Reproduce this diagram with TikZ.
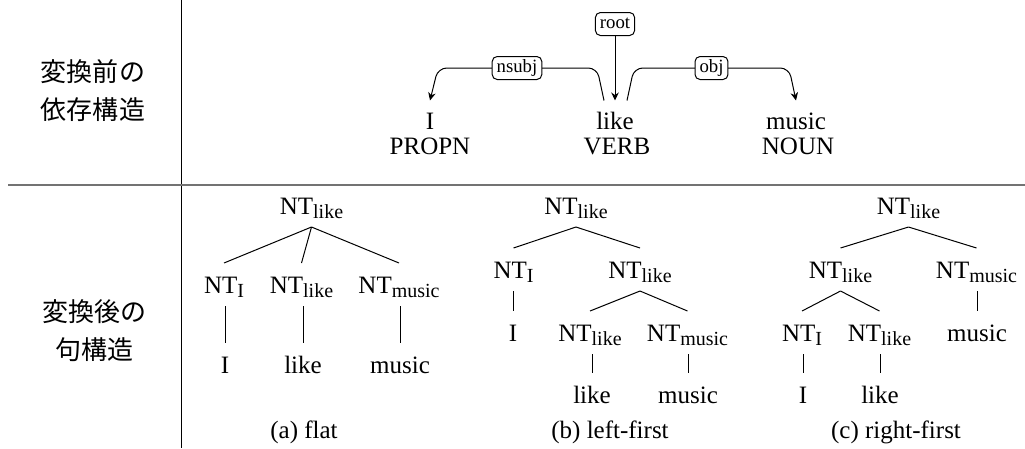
\documentclass[tikz,border=0pt]{standalone}
\usepackage{fontspec}
\setmainfont{Liberation Serif}
\newfontfamily\jafont{Noto Sans CJK JP}
\usetikzlibrary{arrows.meta}
\newcommand\sbs[1]{\raisebox{-1.6pt}{\fontsize{8}{9}\selectfont #1}}
\begin{document}
\begin{tikzpicture}[x=0.4pt,y=-0.4pt,
  nt/.style={anchor=base, inner xsep=0pt, inner ysep=5pt, text height=6.8pt, text depth=0pt, font=\fontsize{10}{12}\selectfont},
  dw/.style={anchor=base, inner xsep=0pt, inner ysep=4.4pt, text height=6.8pt, text depth=0pt, font=\fontsize{10}{12}\selectfont},
  postag/.style={anchor=base, inner sep=0pt, font=\fontsize{10}{12}\selectfont},
  lab/.style={draw, rounded corners=2pt, fill=white, font=\fontsize{7.5}{8}\selectfont, inner xsep=1.8pt, inner ysep=0pt, minimum height=9.2pt, text height=5.2pt, text depth=1.5pt, line width=0.4pt},
  arc/.style={-{Stealth[length=3.2pt,width=3pt]}, rounded corners=3.5pt, line width=0.4pt},
  jp/.style={font=\jafont\fontsize{10.4}{15.2}\selectfont, align=center, inner sep=0pt},
  captxt/.style={anchor=base, inner sep=0pt, font=\fontsize{10}{12}\selectfont},
  br/.style={line width=0.4pt}
]
\useasboundingbox (0,0) rectangle (1025,448);
% frame lines
\draw[line width=0.4pt] (181,0) -- (181,448);
\draw[black!55, line width=0.6pt] (8,185) -- (1025,185);
% row labels
\node[jp] (jpa) at (93,91) {変換前の\\依存構造};
\node[jp] (jpb) at (94,331) {変換後の\\句構造};
% dependency structure
\node[dw] (wI) at (430,129) {I};
\node[dw] (wlike) at (615,129) {like};
\node[dw] (wmusic) at (796,129) {music};
\node[postag] (pI) at (430,154) {PROPN};
\node[postag] (pV) at (617,154) {VERB};
\node[postag] (pN) at (798,154) {NOUN};
\coordinate (n1) at (597,68); \coordinate (n2) at (438,68);
\coordinate (o1) at (634,68); \coordinate (o2) at (789,68);
\draw[arc] ([xshift=-4.4pt]wlike.north) -- (n1) -- (n2) -- (wI.north);
\draw[arc] ([xshift=4.8pt]wlike.north) -- (o1) -- (o2) -- (wmusic.north);
\node[lab] (lroot) at (615,24) {root};
\node[lab] (lnsubj) at (517,68) {nsubj};
\node[lab] (lobj) at (711.5,68) {obj};
\draw[arc] (lroot) -- (wlike.north);
% (a) flat
\node[nt] (a0) at (311.5,214) {NT\sbs{like}};
\node[nt] (a1) at (224,293) {NT\sbs{I}};
\node[nt] (a2) at (301.5,293) {NT\sbs{like}};
\node[nt] (a3) at (399,293) {NT\sbs{music}};
\node[nt] (a4) at (225,373) {I};
\node[nt] (a5) at (303,373) {like};
\node[nt] (a6) at (400,373) {music};
\draw[br] (a0.south) -- (a1.north);
\draw[br] (a0.south) -- (a2.north);
\draw[br] (a0.south) -- (a3.north);
\draw[br] (a4.north |- a1.south) -- (a4.north);
\draw[br] (a5.north |- a2.south) -- (a5.north);
\draw[br] (a6.north |- a3.south) -- (a6.north);
\node[captxt] (ca) at (304,438) {(a) flat};
% (b) left-first
\node[nt] (b0) at (576,214) {NT\sbs{like}};
\node[nt] (b1) at (513.5,278) {NT\sbs{I}};
\node[nt] (b2) at (640,278) {NT\sbs{like}};
\node[nt] (b3) at (513,341) {I};
\node[nt] (b4) at (590,341) {NT\sbs{like}};
\node[nt] (b5) at (687.5,341) {NT\sbs{music}};
\node[nt] (b6) at (592,403) {like};
\node[nt] (b7) at (688,403) {music};
\draw[br] (b0.south) -- (b1.north);
\draw[br] (b0.south) -- (b2.north);
\draw[br] (b3.north |- b1.south) -- (b3.north);
\draw[br] (b2.south) -- (b4.north);
\draw[br] (b2.south) -- (b5.north);
\draw[br] (b6.north |- b4.south) -- (b6.north);
\draw[br] (b7.north |- b5.south) -- (b7.north);
\node[captxt] (cb) at (610,438) {(b) left-first};
% (c) right-first
\node[nt] (c0) at (908.5,214) {NT\sbs{like}};
\node[nt] (c1) at (840.5,278) {NT\sbs{like}};
\node[nt] (c2) at (976.5,278) {NT\sbs{music}};
\node[nt] (c3) at (802,341) {NT\sbs{I}};
\node[nt] (c4) at (879.5,341) {NT\sbs{like}};
\node[nt] (c5) at (977,341) {music};
\node[nt] (c6) at (803,403) {I};
\node[nt] (c7) at (880,403) {like};
\draw[br] (c0.south) -- (c1.north);
\draw[br] (c0.south) -- (c2.north);
\draw[br] (c1.south) -- (c3.north);
\draw[br] (c1.south) -- (c4.north);
\draw[br] (c5.north |- c2.south) -- (c5.north);
\draw[br] (c6.north |- c3.south) -- (c6.north);
\draw[br] (c7.north |- c4.south) -- (c7.north);
\node[captxt] (cc) at (896,438) {(c) right-first};
\end{tikzpicture}
\end{document}
